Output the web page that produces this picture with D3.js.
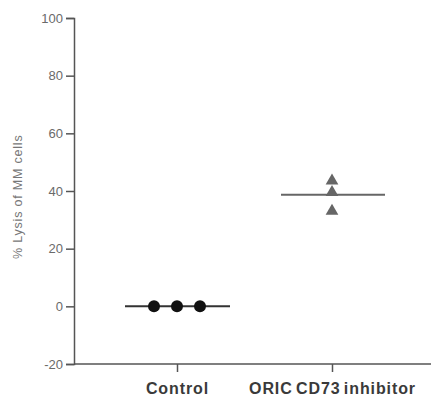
<!DOCTYPE html>
<html><head><meta charset="utf-8">
<script src="https://cdn.jsdelivr.net/npm/d3@7"></script>
<style>body{margin:0;background:#fff}svg{display:block}</style>
</head><body>
<script>
const categories = ["Control", "ORIC CD73 inhibitor"];
const controlValues = [0, 0, 0];
const inhibitorValues = [43.5, 39.5, 33];
const yTicks = [-20, 0, 20, 40, 60, 80, 100];
const yTitle = "% Lysis of MM cells";

const W = 431, H = 401;
const svg = d3.select("body").append("svg").attr("width", W).attr("height", H);
const y = d3.scaleLinear().domain([-20, 100]).range([364, 18]);
const x = d3.scalePoint().domain(categories).range([177, 332]);
const axisColor = "#555";
const font = "Liberation Sans, Arial, sans-serif";

const gy = svg.append("g").attr("transform", "translate(74,0)")
  .call(d3.axisLeft(y).tickValues(yTicks).tickSize(8).tickPadding(3).tickFormat(d => String(d)));
gy.select(".domain").attr("stroke", axisColor).attr("stroke-width", 1.5);
gy.selectAll(".tick line").attr("stroke", axisColor).attr("stroke-width", 1.5);
gy.selectAll(".tick text").attr("fill", "#6a6a6a").attr("font-family", font).attr("font-size", 13);

svg.append("line").attr("x1", 74).attr("x2", 431).attr("y1", y(-20)).attr("y2", y(-20))
  .attr("stroke", axisColor).attr("stroke-width", 1.5);
const gx = svg.append("g").attr("transform", `translate(0,${y(-20)})`)
  .call(d3.axisBottom(x).tickSize(8).tickPadding(11));
gx.select(".domain").remove();
gx.selectAll(".tick line").attr("stroke", axisColor).attr("stroke-width", 1.5);
gx.selectAll(".tick text").attr("fill", "#3a3a3a").attr("font-family", font)
  .attr("font-size", 16).attr("font-weight", "bold").attr("letter-spacing", 0.9).attr("word-spacing", -2);

svg.append("text").attr("transform", `translate(22,${y(38)}) rotate(-90)`)
  .attr("text-anchor", "middle").attr("fill", "#777")
  .attr("font-family", font).attr("font-size", 12.5).attr("letter-spacing", 0.8)
  .text(yTitle);

// Control
const cx0 = x("Control");
const offs = [-23, 0, 23];
svg.append("line").attr("x1", cx0 - 52).attr("x2", cx0 + 53)
  .attr("y1", y(d3.mean(controlValues))).attr("y2", y(d3.mean(controlValues)))
  .attr("stroke", "#333").attr("stroke-width", 2);
svg.selectAll(".ctl").data(controlValues).enter().append("circle")
  .attr("cx", (d, i) => cx0 + offs[i]).attr("cy", d => y(d)).attr("r", 6).attr("fill", "#111");

// Inhibitor
const cx1 = x("ORIC CD73 inhibitor");
svg.append("line").attr("x1", cx1 - 51).attr("x2", cx1 + 53)
  .attr("y1", y(d3.mean(inhibitorValues))).attr("y2", y(d3.mean(inhibitorValues)))
  .attr("stroke", "#666").attr("stroke-width", 2);
const tri = d3.symbol().type(d3.symbolTriangle).size(70);
svg.selectAll(".inh").data(inhibitorValues).enter().append("path")
  .attr("d", tri).attr("transform", d => `translate(${cx1},${y(d)})`).attr("fill", "#666");
</script>
</body></html>
